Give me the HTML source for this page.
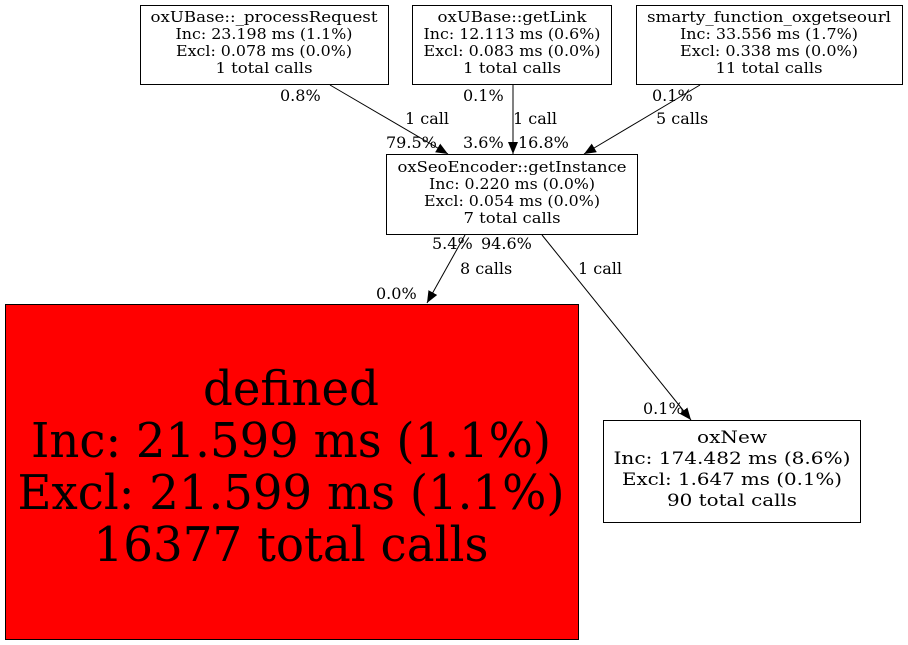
<!DOCTYPE html>
<html><head><meta charset="utf-8"><style>
html,body{margin:0;padding:0;background:#fff;}
svg{display:block;}
text{font-family:"DejaVu Serif","Liberation Serif",serif;fill:#000;}
.s{font-size:15px;}
.e{font-size:16px;}
</style></head><body>
<svg width="908" height="645" viewBox="0 0 908 645" xmlns="http://www.w3.org/2000/svg">
<defs><marker id="a" markerWidth="12" markerHeight="10" refX="12" refY="5" orient="auto" markerUnits="userSpaceOnUse"><path d="M0,0 L12,5 L0,10 z" fill="#000"/></marker></defs>
<g fill="#fff" stroke="#000" stroke-width="1">
<rect x="140.5" y="5.5" width="248" height="79"/>
<rect x="412.5" y="5.5" width="199" height="79"/>
<rect x="636.5" y="5.5" width="266" height="79"/>
<rect x="386.5" y="154.5" width="251" height="80"/>
<rect x="5.5" y="304.5" width="573" height="335" fill="#ff0000"/>
<rect x="603.5" y="420.5" width="257" height="102"/>
</g>
<g stroke="#000" stroke-width="1" fill="none">
<line x1="330" y1="85" x2="448" y2="154" marker-end="url(#a)"/>
<line x1="513" y1="85" x2="513" y2="154" marker-end="url(#a)"/>
<line x1="700" y1="85" x2="584" y2="154" marker-end="url(#a)"/>
<line x1="465" y1="235" x2="427" y2="303" marker-end="url(#a)"/>
<line x1="542" y1="235" x2="691" y2="420" marker-end="url(#a)"/>
</g>
<g class="s" text-anchor="middle">
<text x="264" y="22" textLength="227" lengthAdjust="spacingAndGlyphs">oxUBase::_processRequest</text>
<text x="264" y="39" textLength="177" lengthAdjust="spacingAndGlyphs">Inc: 23.198 ms (1.1%)</text>
<text x="264" y="56" textLength="176" lengthAdjust="spacingAndGlyphs">Excl: 0.078 ms (0.0%)</text>
<text x="264" y="73" textLength="97" lengthAdjust="spacingAndGlyphs">1 total calls</text>
<text x="512" y="22" textLength="149" lengthAdjust="spacingAndGlyphs">oxUBase::getLink</text>
<text x="512" y="39" textLength="177" lengthAdjust="spacingAndGlyphs">Inc: 12.113 ms (0.6%)</text>
<text x="512" y="56" textLength="177" lengthAdjust="spacingAndGlyphs">Excl: 0.083 ms (0.0%)</text>
<text x="512" y="73" textLength="98" lengthAdjust="spacingAndGlyphs">1 total calls</text>
<text x="769" y="22" textLength="244" lengthAdjust="spacingAndGlyphs">smarty_function_oxgetseourl</text>
<text x="769" y="39" textLength="178" lengthAdjust="spacingAndGlyphs">Inc: 33.556 ms (1.7%)</text>
<text x="769" y="56" textLength="178" lengthAdjust="spacingAndGlyphs">Excl: 0.338 ms (0.0%)</text>
<text x="769" y="73" textLength="107" lengthAdjust="spacingAndGlyphs">11 total calls</text>
<text x="512" y="172" textLength="229" lengthAdjust="spacingAndGlyphs">oxSeoEncoder::getInstance</text>
<text x="512" y="189" textLength="166" lengthAdjust="spacingAndGlyphs">Inc: 0.220 ms (0.0%)</text>
<text x="512" y="206" textLength="176" lengthAdjust="spacingAndGlyphs">Excl: 0.054 ms (0.0%)</text>
<text x="512" y="223" textLength="97" lengthAdjust="spacingAndGlyphs">7 total calls</text>
</g>
<g text-anchor="middle" style="font-size:17px">
<text x="732" y="443" textLength="70" lengthAdjust="spacingAndGlyphs">oxNew</text>
<text x="732" y="464" textLength="237" lengthAdjust="spacingAndGlyphs">Inc: 174.482 ms (8.6%)</text>
<text x="732" y="485" textLength="220" lengthAdjust="spacingAndGlyphs">Excl: 1.647 ms (0.1%)</text>
<text x="732" y="506" textLength="130" lengthAdjust="spacingAndGlyphs">90 total calls</text>
</g>
<g text-anchor="middle" style="font-size:48px">
<text x="291" y="405" textLength="176" lengthAdjust="spacingAndGlyphs">defined</text>
<text x="291" y="457" textLength="520" lengthAdjust="spacingAndGlyphs">Inc: 21.599 ms (1.1%)</text>
<text x="291" y="509" textLength="547" lengthAdjust="spacingAndGlyphs">Excl: 21.599 ms (1.1%)</text>
<text x="291" y="561" textLength="395" lengthAdjust="spacingAndGlyphs">16377 total calls</text>
</g>
<g class="e">
<text x="280" y="101">0.8%</text>
<text x="405" y="124">1 call</text>
<text x="386" y="148">79.5%</text>
<text x="463" y="101">0.1%</text>
<text x="513" y="124">1 call</text>
<text x="463" y="148">3.6%</text>
<text x="518" y="148">16.8%</text>
<text x="652" y="101">0.1%</text>
<text x="656" y="124">5 calls</text>
<text x="432" y="249">5.4%</text>
<text x="481" y="249">94.6%</text>
<text x="460" y="274">8 calls</text>
<text x="578" y="274">1 call</text>
<text x="376" y="299">0.0%</text>
<text x="643" y="414">0.1%</text>
</g>
</svg>
</body></html>
